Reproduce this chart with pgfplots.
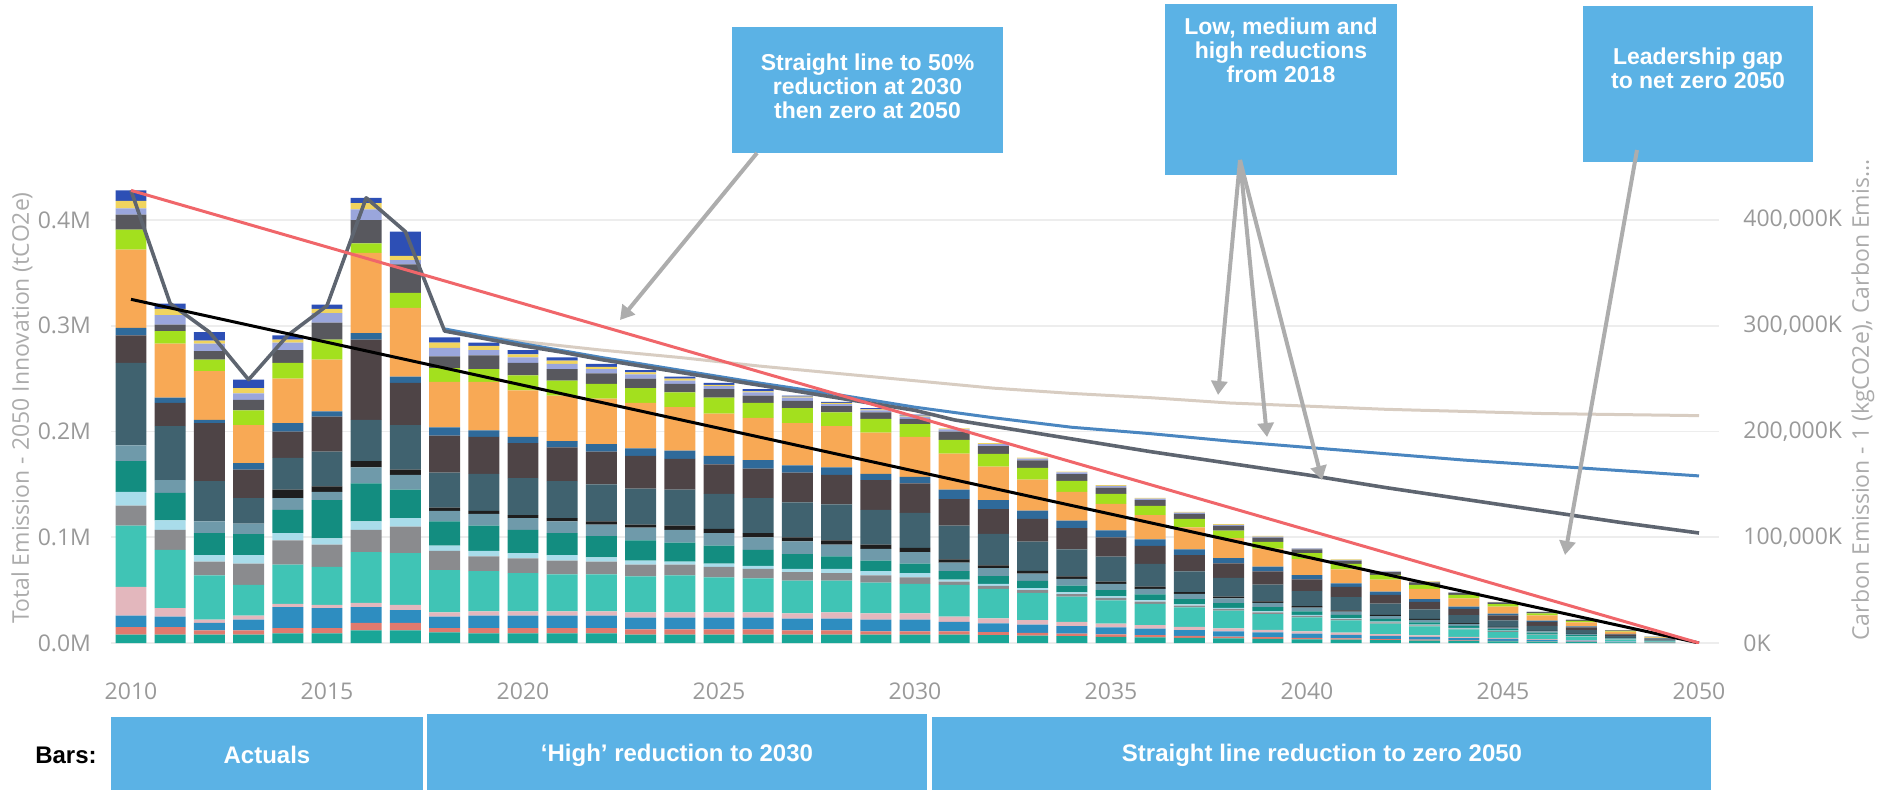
\documentclass[border=0pt]{standalone}
\usepackage{pgfplots}
\pgfplotsset{compat=1.18}
\usepackage{pgfplotstable}
\usepackage{fontspec}
\setmainfont{Open Sans}
\newfontfamily\arial{Liberation Sans}
\usetikzlibrary{arrows.meta}

\definecolor{cteal}{HTML}{19A697}
\definecolor{cred}{HTML}{E07A6E}
\definecolor{cblue}{HTML}{2E8DC0}
\definecolor{cpink}{HTML}{E3B7BD}
\definecolor{cturq}{HTML}{40C4B5}
\definecolor{cgrey}{HTML}{8A8B8E}
\definecolor{clb}{HTML}{A9DCEA}
\definecolor{ctd}{HTML}{138D80}
\definecolor{csteel}{HTML}{6F9AAA}
\definecolor{cblk}{HTML}{1E1E1E}
\definecolor{cslate}{HTML}{40626F}
\definecolor{cbrown}{HTML}{4E4446}
\definecolor{cnavy}{HTML}{2F6A9A}
\definecolor{corange}{HTML}{F8A955}
\definecolor{clime}{HTML}{A3E01E}
\definecolor{cdg}{HTML}{58585E}
\definecolor{clav}{HTML}{9AA6DC}
\definecolor{cyel}{HTML}{F0D45F}
\definecolor{cdb}{HTML}{2D4FB5}
\definecolor{gridc}{HTML}{EDEDED}
\definecolor{tickc}{HTML}{999999}
\definecolor{titlec}{HTML}{ABABAB}
\definecolor{boxblue}{HTML}{5BB2E5}
\definecolor{arrowc}{HTML}{ADADAD}
\definecolor{lowc}{HTML}{D8CDC2}
\definecolor{medc}{HTML}{4A86C0}
\definecolor{highc}{HTML}{5E6570}
\definecolor{redc}{HTML}{F0666A}

\pgfplotstableread{
yr teal red blue pink turq grey lb td steel blk slate brown navy orange lime dg lav yel db
2010 8 7 11 27 58 19 13 29 15 0 78 26 7 74 19 14 6 7 10
2011 8 7 10 8 55 19 9 26 12 0 51 22 5 51 12 6 9 6 5
2012 8 4 7 3 42 13 6 21 11 0 38 55 3 46 11 8 7 3 8
2013 8 4 10 4 29 20 8 20 10 0 24 27 6 36 14 10 6 5 8
2014 9 5 20 3 37 23 7 22 11 8 30 25 8 42 15 12 7 3 4
2015 9 5 19 3 36 21 6 36 8 5 33 33 5 49 19 16 9 4 4
2016 12 7 15 4 48 21 8 36 15 6 39 76 6 76 9 22 10 6 5
2017 12 7 12 5 49 25 8 27 14 5 42 40 6 65 14 27 4 4 23
2018 10 4 11 4 40 18 5 23 10 3 33 35 8 43 13 11 8 5 5
2019 9 5 12 4 38 14 5 24 11 3 35 35 6 46 12 13 5 4 3
2020 9 5 12 4 36 14 5 22 11 3 35 33 6 44 14 12 5 3 4
2021 9 5 12 4 35 13 5 21 11 3 35 32 6 43 14 11 5 3 3
2022 9 5 12 4 35 12 4 20 11 3 35 31 7 43 14 10 4 2 3
2023 8 5 11 5 34 11 4 19 12 3 34 31 7 43 14 9 4 2 2
2024 8 5 11 5 35 10 3 18 12 4 34 29 8 41 14 8 3 2 2
2025 8 5 11 5 33 10 3 17 12 4 33 28 8 40 15 8 3 1 2
2026 8 5 11 5 32 9 3 15 12 4 33 28 8 40 14 7 3 1 2
2027 8 4 11 5 31 8 3 14 12 4 33 28 7 40 14 7 3 1 1
2028 8 4 11 6 30 7 4 12 11 4 34 28 7 39 13 6 2 1 1
2029 8 3 11 6 29 7 4 10 11 4 33 28 6 39 13 6 2 1 1
2030 8 3 11 6 28 6 4 9 11 4 33 28 6 38 12 5 2 1 1
2031 8 3 9 5 30 3 2 8 8 3 32 25 9 34 13 8 2 1 0
2032 7.4 2.8 8.4 4.7 27.9 2.8 1.9 7.4 7.4 2.8 29.8 23.3 8.4 31.7 12.1 7.4 1.9 0.9 0
2033 6.9 2.6 7.8 4.3 25.9 2.6 1.7 6.9 6.9 2.6 27.6 21.6 7.8 29.3 11.2 6.9 1.7 0.9 0
2034 6.4 2.4 7.2 4.0 23.9 2.4 1.6 6.4 6.4 2.4 25.5 20.0 7.2 27.1 10.4 6.4 1.6 0.8 0
2035 5.9 2.2 6.6 3.7 22.0 2.2 1.5 5.9 5.9 2.2 23.5 18.4 6.6 25.0 9.5 5.9 1.5 0.7 0
2036 5.4 2.0 6.1 3.4 20.2 2.0 1.4 5.4 5.4 2.0 21.6 16.9 6.1 23.0 8.8 5.4 1.4 0.7 0
2037 4.9 1.8 5.5 3.1 18.3 1.8 1.2 4.9 4.9 1.8 19.6 15.3 5.5 20.8 7.9 4.9 1.2 0.6 0
2038 4.4 1.7 5.0 2.8 16.6 1.7 1.1 4.4 4.4 1.7 17.7 13.8 5.0 18.8 7.2 4.4 1.1 0.6 0
2039 4.0 1.5 4.5 2.5 14.9 1.5 1.0 4.0 4.0 1.5 15.9 12.5 4.5 16.9 6.5 4.0 1.0 0.5 0
2040 3.5 1.3 4.0 2.2 13.3 1.3 0.9 3.5 3.5 1.3 14.2 11.1 4.0 15.1 5.8 3.5 0.9 0.4 0
2041 3.1 1.2 3.5 1.9 11.7 1.2 0.8 3.1 3.1 1.2 12.5 9.7 3.5 13.2 5.1 3.1 0.8 0.4 0
2042 2.7 1.0 3.0 1.7 10.0 1.0 0.7 2.7 2.7 1.0 10.7 8.4 3.0 11.4 4.4 2.7 0.7 0.3 0
2043 2.3 0.9 2.6 1.4 8.6 0.9 0.6 2.3 2.3 0.9 9.1 7.1 2.6 9.7 3.7 2.3 0.6 0.3 0
2044 1.9 0.7 2.1 1.2 7.1 0.7 0.5 1.9 1.9 0.7 7.6 5.9 2.1 8.0 3.1 1.9 0.5 0.2 0
2045 1.5 0.6 1.7 1.0 5.8 0.6 0.4 1.5 1.5 0.6 6.1 4.8 1.7 6.5 2.5 1.5 0.4 0.2 0
2046 1.2 0.4 1.3 0.7 4.4 0.4 0.3 1.2 1.2 0.4 4.7 3.7 1.3 5.0 1.9 1.2 0.3 0.1 0
2047 0.9 0.3 1.0 0.5 3.3 0.3 0.2 0.9 0.9 0.3 3.5 2.7 1.0 3.7 1.4 0.9 0.2 0.1 0
2048 0.5 0.2 0.5 0.3 1.8 0.2 0.1 0.5 0.5 0.2 1.9 1.5 0.5 2.0 0.8 0.5 0.1 0.1 0
2049 0.2 0.1 0.3 0.1 0.9 0.1 0.1 0.2 0.2 0.1 1.0 0.7 0.3 1.0 0.4 0.2 0.1 0 0
2050 0 0 0 0 0 0 0 0 0 0 0 0 0 0 0 0 0 0 0
}\bars

\pgfplotsset{
  common/.style={
    at={(55.7pt,-321.5pt)}, anchor=south west,
    scale only axis, width=803.6pt, height=230pt,
    xmin=2009.5, xmax=2050.5, ymin=0, ymax=435,
    axis line style={draw=none}, major tick length=0pt,
    ytick={0,100,200,300,400},
    tick label style={font=\fontsize{11.5}{13}\selectfont, text=tickc},
    /pgf/number format/1000 sep={},
    /pgf/number format/assume math mode=true,
  }
}

\begin{document}
\begin{tikzpicture}
\begin{axis}[common,
  ybar stacked, bar width=0.79,
  yticklabels={0.0M,0.1M,0.2M,0.3M,0.4M},
  xtick={2010,2015,...,2050},
  ymajorgrids, grid style={line width=0.9pt, color=gridc},
  yticklabel style={anchor=east, inner sep=0pt, xshift=-10pt},
  xticklabel style={anchor=north, inner sep=0pt, yshift=-19.5pt},
]
\addplot[fill=cteal, draw=none] table[x=yr,y=teal]{\bars};
\addplot[fill=cred, draw=none] table[x=yr,y=red]{\bars};
\addplot[fill=cblue, draw=none] table[x=yr,y=blue]{\bars};
\addplot[fill=cpink, draw=none] table[x=yr,y=pink]{\bars};
\addplot[fill=cturq, draw=none] table[x=yr,y=turq]{\bars};
\addplot[fill=cgrey, draw=none] table[x=yr,y=grey]{\bars};
\addplot[fill=clb, draw=none] table[x=yr,y=lb]{\bars};
\addplot[fill=ctd, draw=none] table[x=yr,y=td]{\bars};
\addplot[fill=csteel, draw=none] table[x=yr,y=steel]{\bars};
\addplot[fill=cblk, draw=none] table[x=yr,y=blk]{\bars};
\addplot[fill=cslate, draw=none] table[x=yr,y=slate]{\bars};
\addplot[fill=cbrown, draw=none] table[x=yr,y=brown]{\bars};
\addplot[fill=cnavy, draw=none] table[x=yr,y=navy]{\bars};
\addplot[fill=corange, draw=none] table[x=yr,y=orange]{\bars};
\addplot[fill=clime, draw=none] table[x=yr,y=lime]{\bars};
\addplot[fill=cdg, draw=none] table[x=yr,y=dg]{\bars};
\addplot[fill=clav, draw=none] table[x=yr,y=lav]{\bars};
\addplot[fill=cyel, draw=none] table[x=yr,y=yel]{\bars};
\addplot[fill=cdb, draw=none] table[x=yr,y=db]{\bars};
\end{axis}

\begin{axis}[common,
  axis x line=none, axis y line*=right,
  yticklabels={0K,{100,000K},{200,000K},{300,000K},{400,000K}},
  yticklabel style={anchor=west, inner sep=0pt, xshift=12.2pt},
  line join=round,
]
\addplot[line width=1.5pt, color=lowc] coordinates {
(2018,295) (2020,285) (2022,277) (2024,270) (2026,262) (2028,255) (2030,248)
(2032,241) (2034,236) (2036,232) (2038,227) (2040,224) (2042,221) (2044,219)
(2046,217) (2048,216) (2050,215)};
\addplot[line width=1.5pt, color=medc] coordinates {
(2018,297) (2020,283) (2022,270) (2024,258) (2026,246) (2028,235) (2030,223)
(2031,218) (2032,213) (2034,204) (2036,198) (2038,191) (2040,185) (2042,179)
(2044,173) (2046,168) (2048,163) (2050,158)};
\addplot[line width=1.8pt, color=highc] coordinates {
(2010,428) (2011,321) (2012,294) (2013,249) (2014,291) (2015,319) (2016,421)
(2017,389) (2018,295) (2019,288) (2020,281) (2021,275) (2022,268) (2023,262)
(2024,256) (2025,250) (2026,244) (2027,238) (2028,232) (2029,226) (2030,220)
(2031,211) (2032,205) (2034,193) (2036,181) (2038,170) (2040,159) (2042,147)
(2044,136) (2046,125) (2048,114) (2050,104)};
\addplot[line width=1.5pt, color=black] coordinates {(2010,325) (2050,0)};
\addplot[line width=1.5pt, color=redc] coordinates {(2010,428) (2050,0)};
\end{axis}

\begin{scope}[x=0.5pt, y=-0.5pt]
% axis titles
\node[rotate=90, font=\fontsize{11.5}{13}\selectfont, text=titlec] at (22,408)
  {Total Emission - 2050 Innovation (tCO2e)};
\node[rotate=90, font=\fontsize{11.5}{13}\selectfont, text=titlec] at (1863,400)
  {Carbon Emission - 1 (kgCO2e), Carbon Emis...};
% callout boxes
\fill[boxblue] (732,27) rectangle (1003,153);
\fill[boxblue] (1165,4) rectangle (1397,175);
\fill[boxblue] (1583,6) rectangle (1813,162);
\node[align=center, text=white, font=\arial\bfseries\fontsize{11.5}{12}\selectfont] at (867.5,86)
  {Straight line to 50\%\\reduction at 2030\\then zero at 2050};
\node[align=center, text=white, font=\arial\bfseries\fontsize{11.5}{12}\selectfont] at (1281,50)
  {Low, medium and\\high reductions\\from 2018};
\node[align=center, text=white, font=\arial\bfseries\fontsize{11.5}{12}\selectfont] at (1698,68)
  {Leadership gap\\to net zero 2050};
% arrows
\tikzset{arr/.style={draw=arrowc, line width=2pt, -{Triangle[length=7pt,width=8pt]}}}
\draw[arr] (757,153) -- (620,320);
\draw[arr] (1240,160) -- (1218,395);
\draw[arr] (1240,160) -- (1267,437);
\draw[arr] (1240,160) -- (1322,480);
\draw[arr] (1637,150) -- (1565,555);
% bottom boxes
\fill[boxblue] (111,717) rectangle (423,790);
\fill[boxblue] (427,714) rectangle (927,790);
\fill[boxblue] (932,717) rectangle (1711,790);
\node[font=\arial\bfseries\fontsize{12}{14}\selectfont, text=black] at (66,755) {Bars:};
\node[font=\arial\bfseries\fontsize{12}{14}\selectfont, text=white] at (267,755) {Actuals};
\node[font=\arial\bfseries\fontsize{12}{14}\selectfont, text=white] at (677,755) {‘High’ reduction to 2030};
\node[font=\arial\bfseries\fontsize{12}{14}\selectfont, text=white] at (1322,755) {Straight line reduction to zero 2050};
\end{scope}

\pgfresetboundingbox
\path[use as bounding box] (0pt,0pt) rectangle (939.5pt,-395pt);
\end{tikzpicture}
\end{document}
